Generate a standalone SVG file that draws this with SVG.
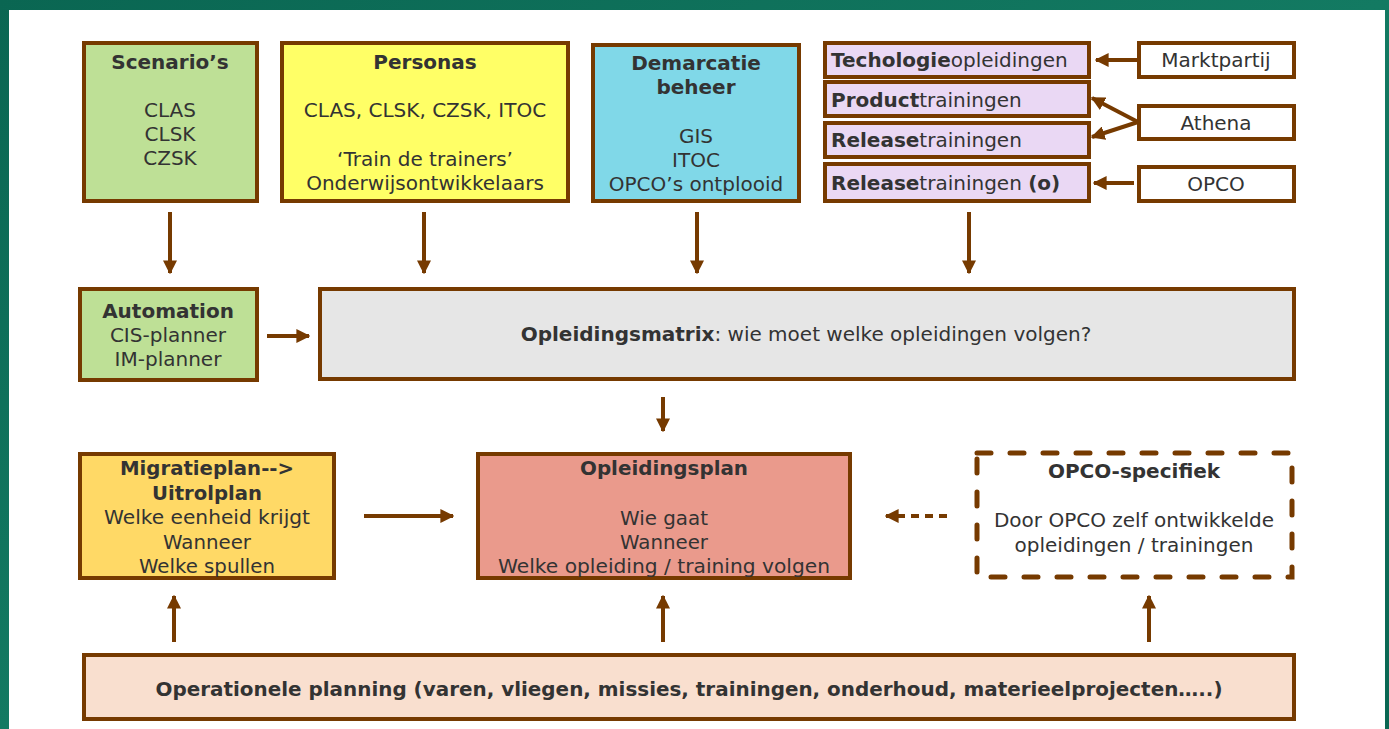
<svg xmlns="http://www.w3.org/2000/svg" width="1389" height="729" viewBox="0 0 1389 729">
<defs>
<linearGradient id="bg" x1="0" y1="0" x2="1" y2="1">
<stop offset="0" stop-color="#0a6652"/>
<stop offset="0.5" stop-color="#137a62"/>
<stop offset="1" stop-color="#0a6652"/>
</linearGradient>
<marker id="ah" viewBox="0 0 10 10" refX="9" refY="5" markerWidth="14" markerHeight="14" markerUnits="userSpaceOnUse" orient="auto">
<path d="M0,0 L10,5 L0,10 z" fill="#763a00"/>
</marker>
</defs>
<style>
.box{stroke:#763a00;stroke-width:4}
.t{font-family:"DejaVu Sans",Verdana,sans-serif;font-size:20px;fill:#333333;text-anchor:middle}
.l{text-anchor:start}
.b{font-weight:bold}
.c{stroke:#763a00;stroke-width:4;fill:none;marker-end:url(#ah)}
</style>
<rect x="0" y="0" width="1389" height="729" fill="url(#bg)"/>
<rect x="9" y="10" width="1376" height="719" fill="#ffffff"/>

<g id="scenarios">
<rect class="box" x="84" y="43" width="173" height="158" fill="#bee096"/>
<text class="t b" x="170" y="69">Scenario’s</text>
<text class="t" x="170" y="117">CLAS</text>
<text class="t" x="170" y="141">CLSK</text>
<text class="t" x="170" y="165">CZSK</text>
</g>
<g id="personas">
<rect class="box" x="282" y="43" width="286" height="158" fill="#ffff66"/>
<text class="t b" x="425" y="69">Personas</text>
<text class="t" x="425" y="117">CLAS, CLSK, CZSK, ITOC</text>
<text class="t" x="425" y="166">‘Train de trainers’</text>
<text class="t" x="425" y="190">Onderwijsontwikkelaars</text>
</g>
<g id="demarcatie">
<rect class="box" x="593" y="45" width="206" height="156" fill="#80d8e8"/>
<text class="t b" x="696" y="70">Demarcatie</text>
<text class="t b" x="696" y="94">beheer</text>
<text class="t" x="696" y="143">GIS</text>
<text class="t" x="696" y="167">ITOC</text>
<text class="t" x="696" y="191">OPCO’s ontplooid</text>
</g>
<g id="techologie">
<rect class="box" x="825" y="43" width="264" height="34" fill="#ead8f4"/>
<text class="t l" x="831" y="67"><tspan class="b">Techologie</tspan>opleidingen</text>
</g>
<g id="product">
<rect class="box" x="825" y="82" width="264" height="34" fill="#ead8f4"/>
<text class="t l" x="831" y="107"><tspan class="b">Product</tspan>trainingen</text>
</g>
<g id="release">
<rect class="box" x="825" y="123" width="264" height="34" fill="#ead8f4"/>
<text class="t l" x="831" y="147"><tspan class="b">Release</tspan>trainingen</text>
</g>
<g id="release-o">
<rect class="box" x="825" y="164" width="264" height="37" fill="#ead8f4"/>
<text class="t l" x="831" y="190"><tspan class="b">Release</tspan>trainingen <tspan class="b">(o)</tspan></text>
</g>
<g id="marktpartij">
<rect class="box" x="1139" y="43" width="155" height="34" fill="#ffffff"/>
<text class="t" x="1216" y="67">Marktpartij</text>
</g>
<g id="athena">
<rect class="box" x="1139" y="106" width="155" height="33" fill="#ffffff"/>
<text class="t" x="1216" y="130">Athena</text>
</g>
<g id="opco">
<rect class="box" x="1139" y="167" width="155" height="34" fill="#ffffff"/>
<text class="t" x="1216" y="191">OPCO</text>
</g>
<g id="automation">
<rect class="box" x="80" y="289" width="177" height="91" fill="#bee096"/>
<text class="t b" x="168" y="318">Automation</text>
<text class="t" x="168" y="342">CIS-planner</text>
<text class="t" x="168" y="366">IM-planner</text>
</g>
<g id="opleidingsmatrix">
<rect class="box" x="320" y="289" width="974" height="90" fill="#e6e6e6"/>
<text class="t" x="806" y="341"><tspan class="b">Opleidingsmatrix</tspan>: wie moet welke opleidingen volgen?</text>
</g>
<g id="migratieplan">
<rect class="box" x="80" y="454" width="254" height="124" fill="#ffd966"/>
<text class="t b" x="207" y="475" textLength="174" lengthAdjust="spacingAndGlyphs">Migratieplan--&gt;</text>
<text class="t b" x="207" y="500" textLength="110" lengthAdjust="spacingAndGlyphs">Uitrolplan</text>
<text class="t" x="207" y="524" textLength="206" lengthAdjust="spacingAndGlyphs">Welke eenheid krijgt</text>
<text class="t" x="207" y="549" textLength="88" lengthAdjust="spacingAndGlyphs">Wanneer</text>
<text class="t" x="207" y="573" textLength="136" lengthAdjust="spacingAndGlyphs">Welke spullen</text>
</g>
<g id="opleidingsplan">
<rect class="box" x="478" y="454" width="372" height="124" fill="#ea9a8c"/>
<text class="t b" x="664" y="475" textLength="168" lengthAdjust="spacingAndGlyphs">Opleidingsplan</text>
<text class="t" x="664" y="525" textLength="88" lengthAdjust="spacingAndGlyphs">Wie gaat</text>
<text class="t" x="664" y="549" textLength="88" lengthAdjust="spacingAndGlyphs">Wanneer</text>
<text class="t" x="664" y="573" textLength="332" lengthAdjust="spacingAndGlyphs">Welke opleiding / training volgen</text>
</g>
<g id="opco-specifiek">
<rect x="977" y="453" width="315" height="124" fill="none" stroke="#763a00" stroke-width="5" stroke-linecap="round" stroke-dasharray="14 19"/>
<text class="t b" x="1134" y="478">OPCO-specifiek</text>
<text class="t" x="1134" y="527">Door OPCO zelf ontwikkelde</text>
<text class="t" x="1134" y="552">opleidingen / trainingen</text>
</g>
<g id="operationele">
<rect class="box" x="84" y="655" width="1210" height="64" fill="#f9dfcf"/>
<text class="t b" x="689" y="696" textLength="1067" lengthAdjust="spacingAndGlyphs">Operationele planning (varen, vliegen, missies, trainingen, onderhoud, materieelprojecten…..)</text>
</g>

<g id="connectors">
<line class="c" x1="170" y1="212" x2="170" y2="273"/>
<line class="c" x1="424" y1="212" x2="424" y2="273"/>
<line class="c" x1="697" y1="212" x2="697" y2="273"/>
<line class="c" x1="969" y1="212" x2="969" y2="273"/>
<line class="c" x1="1137" y1="60" x2="1096" y2="60"/>
<line class="c" x1="1138" y1="122" x2="1092" y2="98"/>
<line class="c" x1="1138" y1="122" x2="1092" y2="137"/>
<line class="c" x1="1134" y1="183" x2="1094" y2="183"/>
<line class="c" x1="267" y1="336" x2="309" y2="336"/>
<line class="c" x1="663" y1="397" x2="663" y2="431"/>
<line class="c" x1="364" y1="516" x2="453" y2="516"/>
<line class="c" x1="947" y1="516" x2="886" y2="516" stroke-dasharray="8 6"/>
<line class="c" x1="174" y1="642" x2="174" y2="596"/>
<line class="c" x1="663" y1="642" x2="663" y2="596"/>
<line class="c" x1="1149" y1="642" x2="1149" y2="596"/>
</g>
</svg>
